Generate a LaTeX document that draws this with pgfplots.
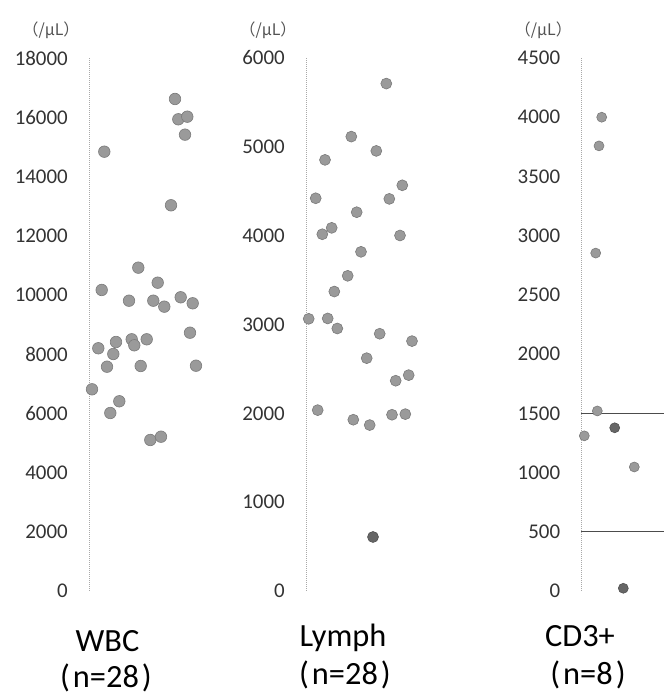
\documentclass[border=0pt]{standalone}
\usepackage{fontspec}
\setmainfont{Carlito}
\newfontfamily\cjk{Noto Sans CJK JP}
\usepackage{pgfplots}
\pgfplotsset{compat=1.18}

\definecolor{dotfill}{HTML}{9A9A9A}
\definecolor{dotdark}{HTML}{666666}
\definecolor{dotedge}{HTML}{7A7A7A}
\definecolor{axgray}{HTML}{A8A8A8}
\definecolor{ticktext}{HTML}{333333}

\pgfplotsset{
  panel/.style={
    scale only axis, height=533bp, xmin=0, ymin=0, clip=false,
    axis x line=none, axis y line=left,
    y axis line style={-, draw=axgray, line width=0.8bp, dash pattern=on 1bp off 1bp},
    major tick length=0pt,
    xtick=\empty,
    scaled y ticks=false,
    /pgf/number format/assume math mode=true,
    /pgf/number format/set thousands separator={},
    yticklabel style={font=\fontsize{21}{24}\selectfont, text=ticktext,
      inner sep=0pt, anchor=east, xshift=-21bp},
    anchor=south west,
  },
  dots/.style={only marks, mark=*, mark size=#1,
    mark options={fill=dotfill, draw=dotedge, line width=0.6bp}},
  darkdots/.style={only marks, mark=*, mark size=#1,
    mark options={fill=dotdark, draw=dotdark!80!black, line width=0.6bp}},
}
\newcommand{\unitlabel}{\node[font=\cjk\fontsize{16}{18}\selectfont, text=ticktext!85,
  xshift=-38bp, yshift=28bp] at (rel axis cs:0,1) {（/μL）};}
\newcommand{\catfont}{\fontsize{32.5}{36}\selectfont}

\begin{document}
\begin{tikzpicture}
\path[use as bounding box] (0,0) rectangle (664bp,696bp);

% WBC
\begin{axis}[panel, at={(89bp,105bp)}, width=120bp, xmax=120,
    ymax=18000, ytick={0,2000,...,18000}]
\addplot+[dots=5.8] coordinates {
  (86,16616) (89.3,15930) (98.3,16018) (96,15411) (15.3,14836) (82,13026)
  (49.3,10919) (68.7,10412) (12.7,10166) (40,9804) (64.3,9804) (75.3,9602)
  (91.7,9919) (103.7,9716) (101,8723) (9.3,8197) (27,8409) (24.3,8004)
  (42.7,8500) (45.3,8298) (57.7,8500) (18,7575) (51.7,7599) (107,7609)
  (3,6812) (30.3,6407) (21.3,6011) (61.3,5100) (72,5211)
};
\unitlabel
\end{axis}

% Lymph
\begin{axis}[panel, at={(306bp,105bp)}, width=120bp, xmax=120,
    ymax=6000, ytick={0,1000,...,6000}]
\addplot+[dots=5.5] coordinates {
  (80.3,5712) (45.3,5115) (70.3,4954) (19,4853) (96.3,4567) (9.7,4421)
  (83.3,4414) (50.7,4264) (25.7,4088) (16.3,4016) (94,4002) (55,3818)
  (41.7,3548) (28.3,3371) (2.7,3064) (21.7,3068) (31.3,2955) (73.7,2896)
  (106,2813) (60.7,2621) (89.7,2367) (102.7,2430) (11.7,2036) (47.3,1928)
  (63.7,1868) (86,1984) (99.3,1991)
};
\addplot+[darkdots=5.5] coordinates {(67,608)};
\unitlabel
\end{axis}

% CD3+
\begin{axis}[panel, at={(581.3bp,105bp)}, width=83bp, xmax=83,
    ymax=4500, ytick={0,500,...,4500}]
\addplot[draw=black!70, line width=1.4bp] coordinates {(0,1500) (83,1500)};
\addplot[draw=black!70, line width=1.4bp] coordinates {(0,500) (83,500)};
\addplot+[dots=5] coordinates {
  (20.4,4000) (17.7,3758) (14.4,2853) (16,1520) (3,1310) (53,1047)
};
\addplot+[darkdots=5] coordinates {(33.4,1378) (42,23)};
\unitlabel
\end{axis}

\node[font=\catfont, anchor=base] at (107.5bp,44bp) {WBC};
\node[font=\catfont, anchor=base] at (106bp,9bp) {(\hspace{3bp}n=28\hspace{3bp})};
\node[font=\catfont, anchor=base] at (343bp,49bp) {Lymph};
\node[font=\catfont, anchor=base] at (345bp,12bp) {(\hspace{3bp}n=28\hspace{3bp})};
\node[font=\catfont, anchor=base] at (580bp,49bp) {CD3+};
\node[font=\catfont, anchor=base] at (588bp,12bp) {(\hspace{3bp}n=8\hspace{3bp})};
\end{tikzpicture}
\end{document}
